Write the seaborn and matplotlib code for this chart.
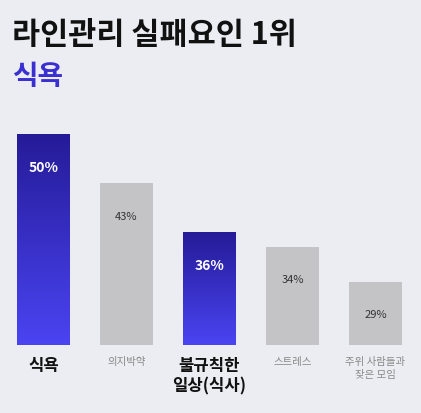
import matplotlib
matplotlib.use("Agg")
import matplotlib.pyplot as plt
import seaborn as sns
import numpy as np
import pandas as pd
from matplotlib.colors import LinearSegmentedColormap

categories = ["식욕", "의지박약", "불규칙한\n일상(식사)", "스트레스", "주위 사람들과\n잦은 모임"]
values = [50, 43, 36, 34, 29]
highlight = [True, False, True, False, False]
labels = ["50%", "43%", "36%", "34%", "29%"]

sns.set_theme(style="white")
plt.rcParams['font.family'] = ['Noto Sans CJK KR', 'DejaVu Sans']
bg = "#ECEDF2"
fig = plt.figure(figsize=(4.21, 4.13), dpi=100, facecolor=bg)
ax = fig.add_axes([2/421, 68/413, 415/421, 225/413], facecolor=bg)
df = pd.DataFrame({"cat": categories, "val": values})
sns.barplot(data=df, x="cat", y="val", ax=ax, color="#C4C4C6", width=0.63,
            saturation=1, linewidth=0, edgecolor="none")
ax.set_ylim(20, 52)
ax.set_xlim(-0.5, 4.5)
cmap = LinearSegmentedColormap.from_list("g", ["#4A44F2", "#251B98"])
grad = np.linspace(0, 1, 256).reshape(-1, 1)
for p, h, lab, v in zip(ax.patches, highlight, labels, values):
    x0, w = p.get_x(), p.get_width()
    y1 = p.get_height()
    if h:
        p.set_facecolor("none")
        im = ax.imshow(grad, cmap=cmap, aspect="auto", origin="lower",
                       extent=[x0, x0 + w, 20, y1], zorder=2)
        im.set_clip_path(p)
    cx = x0 + w / 2
    ax.text(cx, y1 - 4.8, lab, ha="center", va="center",
            color="white" if h else "#333333",
            fontsize=10 if h else 8, fontweight="bold" if h else "normal", zorder=3)
ax.set_xticks(range(5))
ax.set_xticklabels([])
for i, (c, h) in enumerate(zip(categories, highlight)):
    ax.text(i, 18.3, c, ha="center", va="top", transform=ax.transData,
            fontsize=12 if h else 7.5, fontweight="bold" if h else "normal",
            color="#111111" if h else "#888888", linespacing=1.2 if h else 1.4)
ax.set_xlabel(""); ax.set_ylabel("")
ax.set_yticks([])
ax.tick_params(length=0)
for s in ax.spines.values():
    s.set_visible(False)
fig.text(12/421, 1 - 35/413, "라인관리 실패요인 1위", fontsize=22, fontweight="bold",
         color="#111111", va="center")
fig.text(12/421, 1 - 77/413, "식욕", fontsize=20, fontweight="bold",
         color="#3A2FD0", va="center")
fig.savefig("out.png", dpi=100, facecolor=bg)
